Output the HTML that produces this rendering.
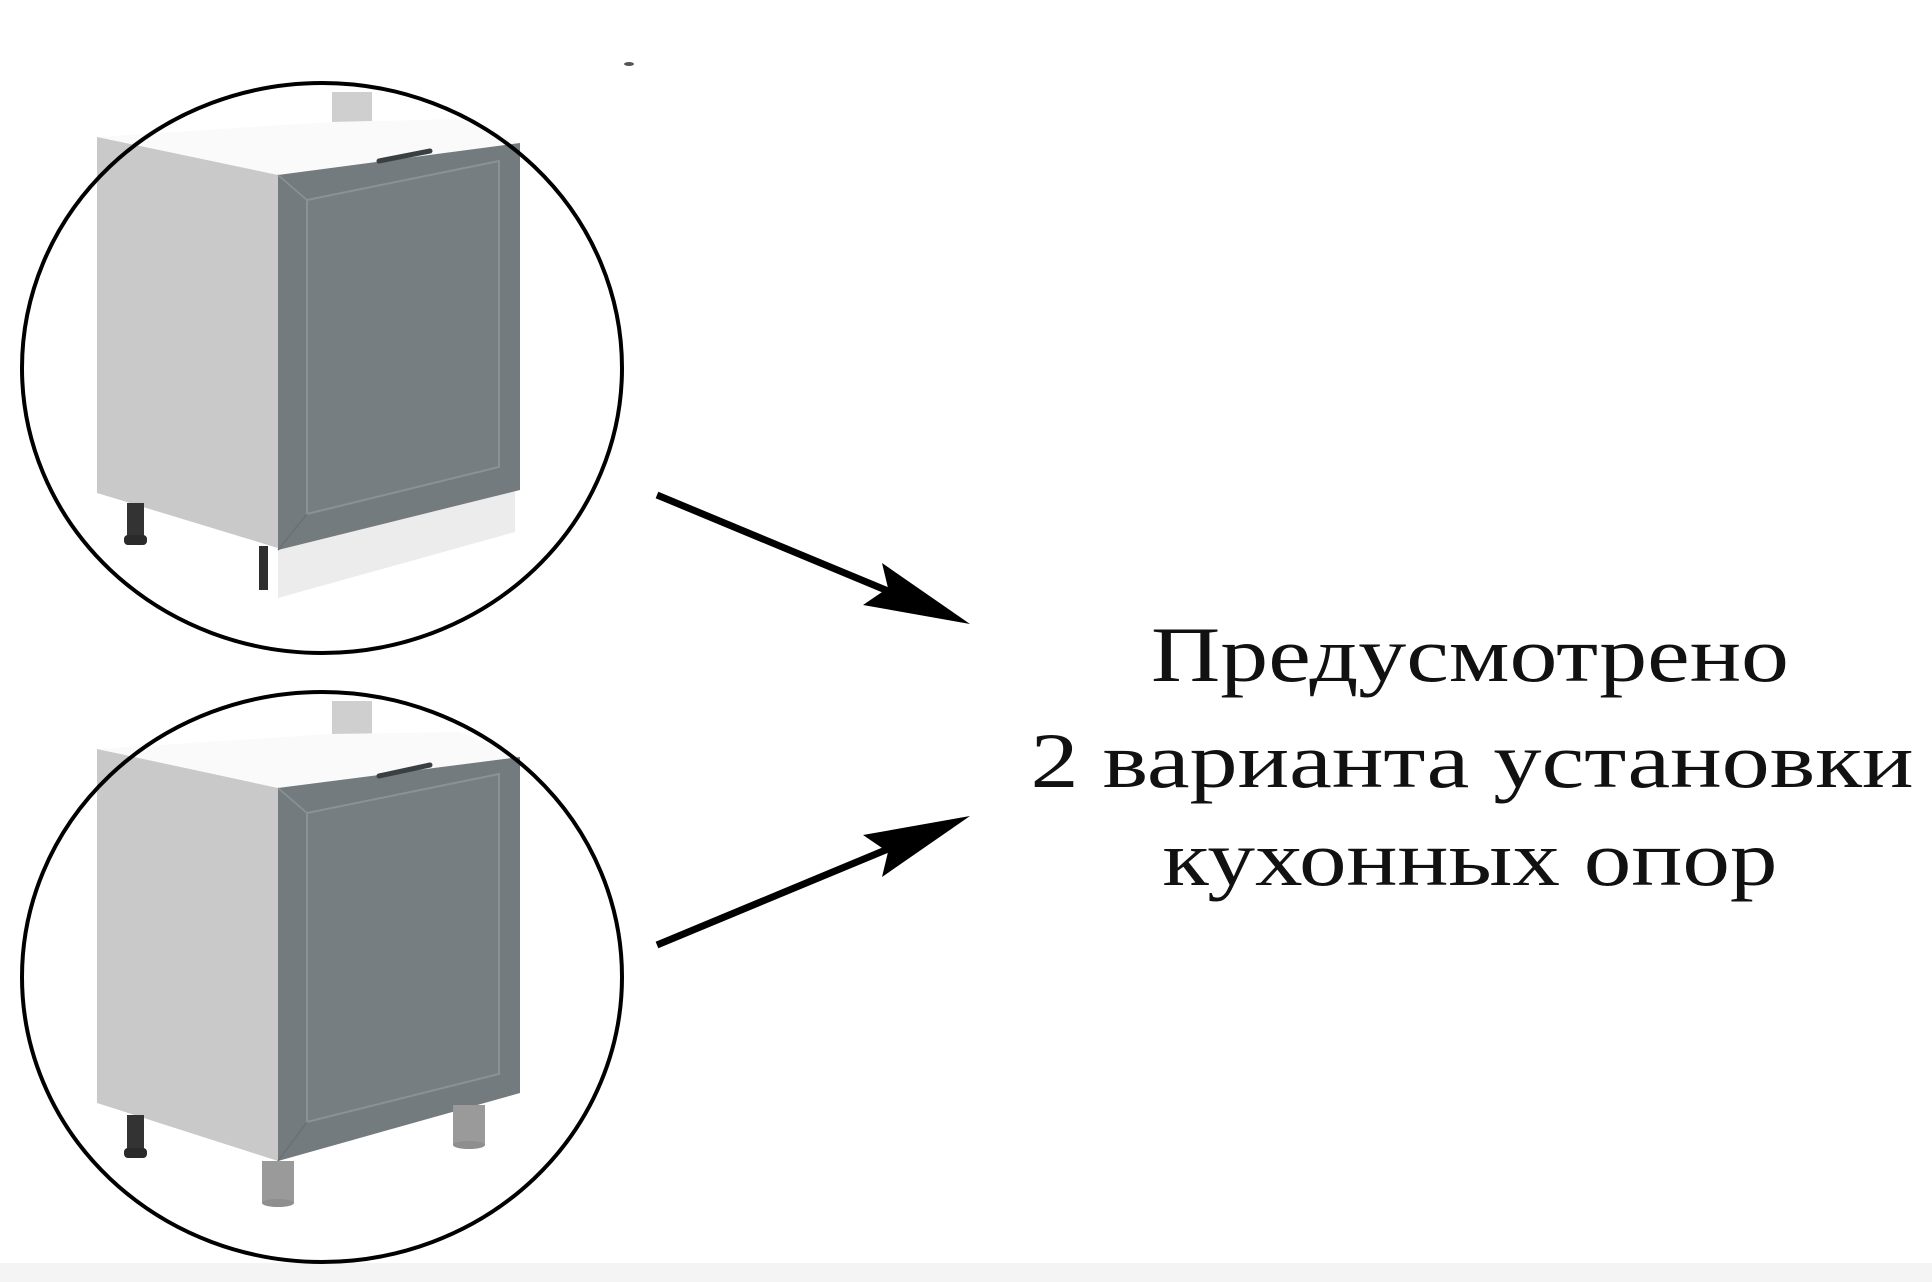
<!DOCTYPE html>
<html><head><meta charset="utf-8"><style>
html,body{margin:0;padding:0;background:#fff;}
svg{display:block;}
</style></head><body>
<svg width="1932" height="1282" viewBox="0 0 1932 1282" xmlns="http://www.w3.org/2000/svg">
<rect width="1932" height="1282" fill="#fff"/>
<rect x="0" y="1263" width="1932" height="19" fill="#f4f4f4"/>
<ellipse cx="629" cy="64" rx="5" ry="2" fill="#555"/>

<!-- Top cabinet -->
<g>
<polygon points="332,92 372,92 372,122 332,124" fill="#cfcfcf"/>
<polygon points="97,137 330,122 459,119 520,143 278,175" fill="#fafafa"/>
<polygon points="278,175 520,143 520,150 278,182" fill="#e9e9e9"/>
<polygon points="97,137 278,175 278,548 97,493" fill="#c9c9c9"/>
<polygon points="278,550 515,491 515,532 278,598" fill="#ececec"/>
<polygon points="278,175 520,143 520,490 278,550" fill="#737b7f"/>
<polygon points="307,200 499,161 499,467 307,514" fill="#767e82" stroke="#8a9296" stroke-width="2"/>
<line x1="278" y1="175" x2="307" y2="200" stroke="#8a9296" stroke-width="1.5"/>
<line x1="278" y1="550" x2="307" y2="514" stroke="#6a7175" stroke-width="1.5"/>
<line x1="379" y1="161" x2="430" y2="151" stroke="#3a3f42" stroke-width="5" stroke-linecap="round"/>
<rect x="127" y="503" width="17" height="38" fill="#333"/>
<rect x="124" y="535" width="23" height="10" rx="4" fill="#2a2a2a"/>
<rect x="259" y="546" width="9" height="44" fill="#2e2e2e"/>
</g>
<ellipse cx="322" cy="368" rx="300" ry="285" fill="none" stroke="#000" stroke-width="4"/>

<!-- Bottom cabinet -->
<g>
<polygon points="332,701 372,701 372,738 332,740" fill="#cfcfcf"/>
<polygon points="97,749 330,734 459,732 520,757 278,788" fill="#fafafa"/>
<polygon points="278,788 520,757 520,764 278,795" fill="#e9e9e9"/>
<polygon points="97,749 278,788 278,1161 97,1103" fill="#c9c9c9"/>
<polygon points="278,788 520,757 520,1093 278,1161" fill="#737b7f"/>
<polygon points="307,813 499,774 499,1074 307,1122" fill="#767e82" stroke="#8a9296" stroke-width="2"/>
<line x1="278" y1="788" x2="307" y2="813" stroke="#8a9296" stroke-width="1.5"/>
<line x1="278" y1="1161" x2="307" y2="1122" stroke="#6a7175" stroke-width="1.5"/>
<line x1="379" y1="776" x2="430" y2="765" stroke="#3a3f42" stroke-width="5" stroke-linecap="round"/>
<rect x="127" y="1115" width="17" height="36" fill="#333"/>
<rect x="124" y="1148" width="23" height="10" rx="4" fill="#2a2a2a"/>
<rect x="262" y="1161" width="32" height="42" fill="#9a9a9a"/>
<ellipse cx="278" cy="1203" rx="16" ry="4" fill="#8e8e8e"/>
<rect x="453" y="1105" width="32" height="40" fill="#9a9a9a"/>
<ellipse cx="469" cy="1145" rx="16" ry="4" fill="#8e8e8e"/>
</g>
<ellipse cx="322" cy="977" rx="300" ry="285" fill="none" stroke="#000" stroke-width="4"/>

<!-- Arrows -->
<line x1="657" y1="495" x2="900" y2="596" stroke="#000" stroke-width="7"/>
<polygon points="970,624 882,563 888,588 863,605" fill="#000"/>
<line x1="657" y1="945" x2="900" y2="844" stroke="#000" stroke-width="7"/>
<polygon points="970,816 882,877 888,852 863,835" fill="#000"/>

<!-- Text -->
<g font-family="Liberation Serif, serif" font-size="78" fill="#111" text-anchor="middle">
<text x="1470" y="681" textLength="638" lengthAdjust="spacingAndGlyphs">Предусмотрено</text>
<text x="1472" y="787" textLength="883" lengthAdjust="spacingAndGlyphs">2 варианта установки</text>
<text x="1470" y="885" textLength="615" lengthAdjust="spacingAndGlyphs">кухонных опор</text>
</g>
</svg>
</body></html>
